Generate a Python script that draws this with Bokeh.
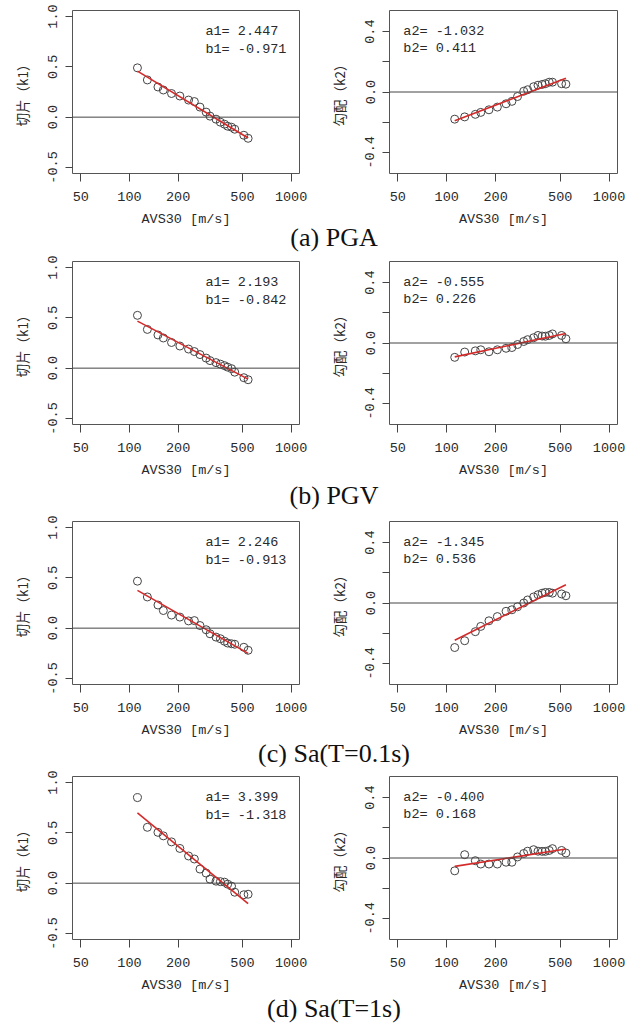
import math
from bokeh.plotting import figure
from bokeh.models import (Range1d, FixedTicker, PrintfTickFormatter, CustomJSTickFormatter,
                          Span, Label, Div)
from bokeh.layouts import column, row
from bokeh.embed import file_html
from bokeh.resources import INLINE

# ---------------- data ----------------
avs30 = [112, 129, 150, 162, 182, 205, 232, 252, 273, 298, 315, 343, 365, 387, 405, 428, 448, 510, 542]

k1_pga = [0.49, 0.37, 0.30, 0.27, 0.235, 0.21, 0.17, 0.155, 0.10, 0.05, 0.01, -0.02, -0.05, -0.07, -0.09, -0.10, -0.12, -0.18, -0.21]
k2_pga = [-0.18, -0.165, -0.148, -0.135, -0.118, -0.10, -0.078, -0.062, -0.03, 0.005, 0.015, 0.035, 0.045, 0.05, 0.055, 0.065, 0.065, 0.055, 0.052]
k1_pgv = [0.525, 0.385, 0.33, 0.30, 0.255, 0.22, 0.19, 0.165, 0.135, 0.10, 0.075, 0.055, 0.04, 0.025, 0.01, -0.005, -0.04, -0.095, -0.115]
k2_pgv = [-0.095, -0.06, -0.052, -0.045, -0.058, -0.045, -0.035, -0.03, -0.01, 0.01, 0.022, 0.035, 0.05, 0.046, 0.045, 0.05, 0.06, 0.05, 0.028]
k1_sa01 = [0.467, 0.31, 0.23, 0.175, 0.13, 0.11, 0.072, 0.075, 0.026, -0.016, -0.056, -0.089, -0.105, -0.13, -0.148, -0.155, -0.16, -0.19, -0.22]
k2_sa01 = [-0.295, -0.25, -0.19, -0.155, -0.118, -0.09, -0.055, -0.045, -0.025, 0.0, 0.02, 0.04, 0.055, 0.065, 0.07, 0.07, 0.065, 0.06, 0.048]
k1_sa1 = [0.85, 0.555, 0.505, 0.47, 0.41, 0.345, 0.27, 0.24, 0.14, 0.10, 0.04, 0.02, 0.015, 0.01, -0.01, -0.03, -0.09, -0.115, -0.11]
k2_sa1 = [-0.085, 0.022, -0.018, -0.04, -0.04, -0.04, -0.028, -0.028, 0.007, 0.03, 0.045, 0.055, 0.045, 0.044, 0.044, 0.05, 0.062, 0.05, 0.033]

a1 = [2.447, 2.193, 2.246, 3.399]
b1 = [-0.971, -0.842, -0.913, -1.318]
a2 = [-1.032, -0.555, -1.345, -0.400]
b2 = [0.411, 0.226, 0.536, 0.168]

k1_sets = [k1_pga, k1_pgv, k1_sa01, k1_sa1]
k2_sets = [k2_pga, k2_pgv, k2_sa01, k2_sa1]
captions = ["(a) PGA", "(b) PGV", "(c) Sa(T=0.1s)", "(d) Sa(T=1s)"]

x_ticks = [50, 100, 200, 500, 1000]
k1_ticks = [-0.5, 0.0, 0.5, 1.0]
k2_ticks = [-0.4, -0.2, 0.0, 0.2, 0.4]

# ---------------- layout parameters ----------------
FRAME_H = 163
BOTTOM = 60
top_borders = [10, 9, 11, 10]
cap_heights = [19, 26, 22, 24]
cap_lines = [10, 24, 20, 20]

MONO = "Liberation Mono"
CJK = "Noto Sans CJK JP"
TXT = "#2a2a2a"


def make_panel(yvals, a, b, which, top):
    left = which == 1
    width = 317 if left else 312
    p = figure(width=width, height=top + FRAME_H + BOTTOM, x_axis_type="log",
               output_backend="svg", toolbar_location=None,
               x_range=Range1d(44.4, 1127),
               y_range=Range1d(-0.56, 1.06) if left else Range1d(-0.54, 0.54),
               min_border_left=72, min_border_right=(18 if left else 12),
               min_border_top=top, min_border_bottom=BOTTOM)
    p.margin = (0, 0, 0, 0)
    p.xgrid.visible = False
    p.ygrid.visible = False
    p.outline_line_color = "#555555"
    p.outline_line_width = 1
    p.background_fill_color = "white"
    p.border_fill_color = "white"

    p.add_layout(Span(location=0, dimension="width", line_color="#444444", line_width=1))

    p.scatter(avs30, yvals, marker="circle", size=8, fill_color=None,
              line_color="#444444", line_width=1)
    xs = [min(avs30), max(avs30)]
    ys = [a + b * math.log10(v) for v in xs]
    p.line(xs, ys, line_color="#d42a2a", line_width=1.6)

    # axes
    xa = p.xaxis[0]
    xa.ticker = FixedTicker(ticks=x_ticks)
    xa.formatter = PrintfTickFormatter(format="%d")
    xa.minor_tick_line_color = None
    xa.axis_line_color = None
    xa.major_tick_in = 0
    xa.major_tick_out = 8
    xa.major_tick_line_color = "#444444"
    xa.major_label_standoff = 10
    xa.major_label_text_font = MONO
    xa.major_label_text_font_size = "13.5px"
    xa.major_label_text_color = TXT
    xa.axis_label = "AVS30 [m/s]"
    xa.axis_label_text_font = MONO
    xa.axis_label_text_font_size = "13.5px"
    xa.axis_label_text_font_style = "normal"
    xa.axis_label_text_color = TXT
    xa.axis_label_standoff = 8

    ya = p.yaxis[0]
    if left:
        ya.ticker = FixedTicker(ticks=k1_ticks)
        ya.formatter = PrintfTickFormatter(format="%.1f")
        ya.axis_label = "切片（k1）"
    else:
        ya.ticker = FixedTicker(ticks=k2_ticks)
        ya.formatter = CustomJSTickFormatter(
            code="return Math.abs(Math.abs(tick) - 0.2) < 1e-6 ? '' : tick.toFixed(1);")
        ya.axis_label = "勾配（k2）"
    ya.minor_tick_line_color = None
    ya.axis_line_color = None
    ya.major_tick_in = 0
    ya.major_tick_out = 7
    ya.major_tick_line_color = "#444444"
    ya.major_label_orientation = "vertical"
    ya.major_label_standoff = 8
    ya.major_label_text_font = MONO
    ya.major_label_text_font_size = "13.5px"
    ya.major_label_text_color = TXT
    ya.axis_label_text_font = CJK
    ya.axis_label_text_font_size = "13.5px"
    ya.axis_label_text_font_style = "normal"
    ya.axis_label_text_color = TXT
    ya.axis_label_standoff = 14

    # coefficient annotations
    if left:
        lx, ly1, ly2, n = 295, 0.85, 0.671, "1"
    else:
        lx, ly1, ly2, n = 54, 0.40, 0.285, "2"
    for yy, txt in [(ly1, f"a{n}= {a:.3f}"), (ly2, f"b{n}= {b:.3f}")]:
        p.add_layout(Label(x=lx, y=yy, text=txt, text_font=MONO, text_font_size="13.5px",
                           text_color=TXT, text_baseline="middle", text_align="left"))
    return p


blocks = []
for i in range(4):
    pl = make_panel(k1_sets[i], a1[i], b1[i], 1, top_borders[i])
    pr = make_panel(k2_sets[i], a2[i], b2[i], 2, top_borders[i])
    r = row(pl, pr)
    r.margin = (0, 0, 0, 0)
    blocks.append(r)
    h = cap_heights[i]
    cap = Div(text=(f'<div style="display:block; width:600px; margin-left:34px; '
                    f'font-family: \'Liberation Serif\', serif; font-size: 26px; color: #111; '
                    f'text-align: center; line-height: {cap_lines[i]}px; white-space: nowrap;">'
                    f'{captions[i]}</div>'),
              width=629, height=h)
    cap.margin = (0, 0, 0, 0)
    blocks.append(cap)

layout = column(*blocks)
layout.margin = (0, 0, 0, 0)

open("out.html", "w").write(file_html(layout, INLINE))
